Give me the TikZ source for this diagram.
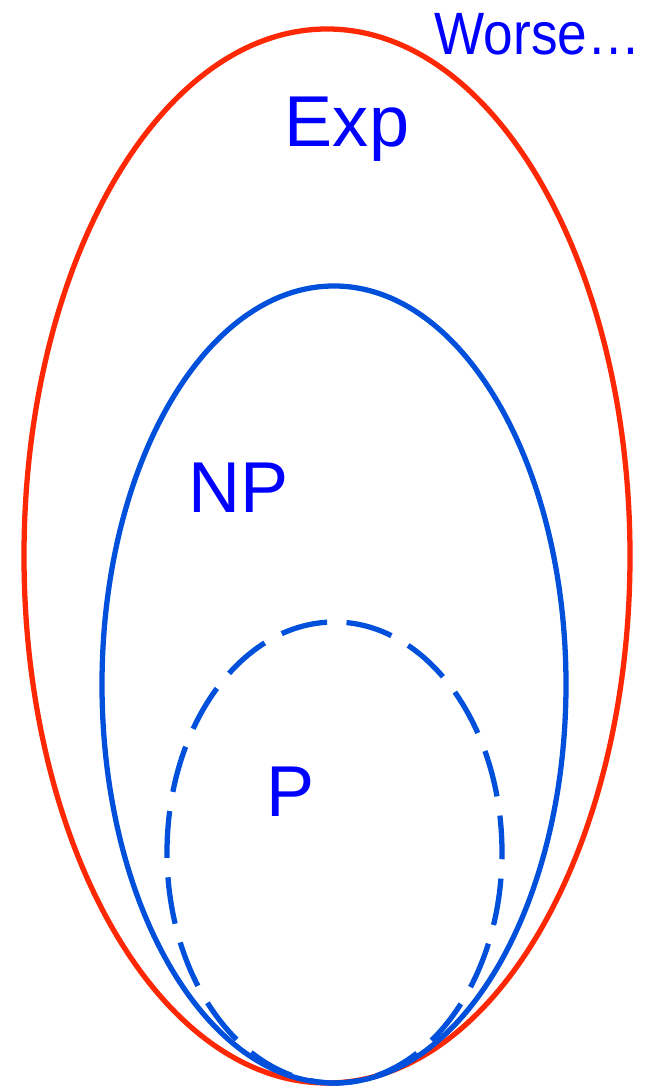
\documentclass[tikz,border=0pt]{standalone}
\usepackage{fontspec}
\setmainfont{Liberation Sans}
\usepackage{xcolor}
\usepackage{tikz}
\usetikzlibrary{positioning}
\definecolor{exred}{RGB}{255,40,5}
\definecolor{npblue}{RGB}{0,80,220}
\definecolor{txtblue}{RGB}{0,0,255}

\begin{document}
\begin{tikzpicture}
\tikzstyle{cls}=[line width=3pt]
\tikzstyle{lbl}=[text=txtblue,anchor=base,inner sep=0pt,font=\fontsize{41}{41}\selectfont]
\useasboundingbox (0,0) rectangle (13.08,21.76);
% complexity classes
\draw[cls,exred] (6.54,10.64) ellipse (6.06 and 10.54);
\draw[cls,npblue] (6.68,8.07) ellipse (4.64 and 7.97);
\draw[cls,npblue,dash pattern=on 0.94cm off 0.388cm,dash phase=0.2cm] (6.69,4.71) ellipse (3.35 and 4.61);
\node[lbl] (exp) at (6.94,18.82) {Exp};
\node[lbl] (np) at (4.77,11.5) {NP};
\node[lbl] (p) at (5.82,5.42) {P};
\node[lbl,xscale=0.89,font=\fontsize{34}{34}\selectfont] (worse) at (10.75,20.66) {Worse\dots};
\end{tikzpicture}
\end{document}
